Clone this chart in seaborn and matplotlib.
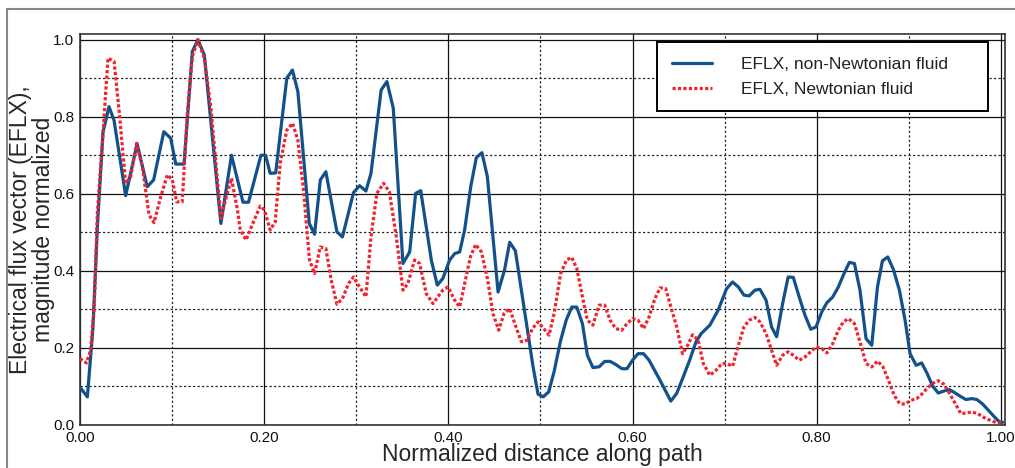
import numpy as np
import pandas as pd
import matplotlib
matplotlib.use("Agg")
import matplotlib.pyplot as plt
import seaborn as sns
from matplotlib.ticker import MultipleLocator, FormatStrFormatter
from matplotlib.patches import Rectangle

# ---------------- data ----------------
nonnewt_x = [0.000, 0.008, 0.014, 0.019, 0.025, 0.0315, 0.037, 0.0496, 0.062, 0.073,
             0.080, 0.091, 0.0985, 0.104, 0.113, 0.122, 0.128, 0.135, 0.153, 0.1645,
             0.177, 0.183, 0.1965, 0.2015, 0.2065, 0.2125, 0.2246, 0.2307, 0.2366, 0.249,
             0.2547, 0.261, 0.267, 0.279, 0.285, 0.297, 0.3036, 0.3105, 0.316, 0.327,
             0.3333, 0.3402, 0.3507, 0.358, 0.3645, 0.370, 0.3815, 0.388, 0.394, 0.4014,
             0.407, 0.4123, 0.4177, 0.4243, 0.4304, 0.4365, 0.4424, 0.454, 0.461, 0.4666,
             0.4728, 0.492, 0.4974, 0.503, 0.509, 0.5148, 0.522, 0.528, 0.534, 0.5395,
             0.5456, 0.551, 0.557, 0.5637, 0.5698, 0.5757, 0.5818, 0.5884, 0.594, 0.600,
             0.606, 0.612, 0.618, 0.629, 0.6416, 0.648, 0.6543, 0.662, 0.669, 0.6745,
             0.684, 0.693, 0.7022, 0.7087, 0.715, 0.721, 0.7267, 0.733, 0.7384, 0.745,
             0.751, 0.7565, 0.763, 0.769, 0.7746, 0.781, 0.7873, 0.7935, 0.7993, 0.8055,
             0.811, 0.8174, 0.8235, 0.8297, 0.8355, 0.841, 0.847, 0.8536, 0.8598, 0.866,
             0.8714, 0.8772, 0.8833, 0.8898, 0.896, 0.9014, 0.908, 0.914, 0.920, 0.926,
             0.932, 0.938, 0.944, 0.9505, 0.956, 0.962, 0.9685, 0.974, 0.9804, 0.9865,
             0.993, 0.9985, 1.002]
nonnewt_y = [0.098, 0.073, 0.25, 0.52, 0.76, 0.826, 0.79, 0.595, 0.73, 0.618,
             0.636, 0.761, 0.744, 0.677, 0.677, 0.969, 1.0, 0.96, 0.523, 0.70,
             0.578, 0.578, 0.70, 0.70, 0.653, 0.654, 0.90, 0.921, 0.865, 0.523,
             0.495, 0.636, 0.657, 0.501, 0.488, 0.603, 0.621, 0.607, 0.653, 0.869,
             0.891, 0.822, 0.419, 0.449, 0.601, 0.608, 0.428, 0.363, 0.380, 0.428,
             0.445, 0.449, 0.506, 0.618, 0.694, 0.7065, 0.644, 0.345, 0.402, 0.474,
             0.452, 0.151, 0.080, 0.073, 0.086, 0.138, 0.22, 0.272, 0.306, 0.306,
             0.263, 0.181, 0.149, 0.151, 0.165, 0.165, 0.157, 0.146, 0.146, 0.168,
             0.185, 0.185, 0.168, 0.12, 0.062, 0.082, 0.120, 0.168, 0.216, 0.237,
             0.259, 0.298, 0.354, 0.371, 0.358, 0.337, 0.335, 0.350, 0.352, 0.324,
             0.2545, 0.229, 0.315, 0.384, 0.383, 0.332, 0.285, 0.2485, 0.2545, 0.2935,
             0.317, 0.332, 0.358, 0.393, 0.422, 0.419, 0.350, 0.224, 0.207, 0.358,
             0.426, 0.436, 0.4036, 0.350, 0.272, 0.185, 0.155, 0.161, 0.1335, 0.1005,
             0.083, 0.088, 0.092, 0.083, 0.0745, 0.066, 0.0685, 0.066, 0.054, 0.038,
             0.021, 0.008, 0.007]

newt_x = [0.000, 0.007, 0.0115, 0.0155, 0.0188, 0.024, 0.0304, 0.037, 0.0424, 0.0496,
          0.055, 0.0615, 0.0677, 0.075, 0.0804, 0.0876, 0.0949, 0.1003, 0.105, 0.111,
          0.1166, 0.122, 0.128, 0.135, 0.142, 0.153, 0.158, 0.1645, 0.171, 0.174,
          0.1804, 0.1876, 0.1957, 0.2003, 0.2065, 0.212, 0.2174, 0.2246, 0.2308, 0.2365,
          0.2427, 0.2492, 0.2547, 0.2609, 0.267, 0.2728, 0.279, 0.285, 0.2916, 0.297,
          0.3036, 0.3105, 0.316, 0.3224, 0.3297, 0.336, 0.3435, 0.3507, 0.356, 0.3634,
          0.3688, 0.376, 0.3833, 0.3887, 0.394, 0.3996, 0.4068, 0.4123, 0.4177, 0.4239,
          0.4297, 0.4359, 0.4424, 0.4485, 0.4547, 0.4605, 0.4666, 0.4728, 0.4793, 0.4855,
          0.4913, 0.4974, 0.5036, 0.5094, 0.5148, 0.522, 0.5283, 0.534, 0.5395, 0.5456,
          0.551, 0.557, 0.5637, 0.5698, 0.5757, 0.5818, 0.5884, 0.594, 0.600, 0.606,
          0.612, 0.618, 0.6243, 0.630, 0.636, 0.6424, 0.648, 0.6543, 0.6597, 0.6652,
          0.6713, 0.6768, 0.684, 0.6907, 0.697, 0.7022, 0.7087, 0.715, 0.721, 0.7267,
          0.733, 0.7384, 0.745, 0.751, 0.7565, 0.763, 0.769, 0.7746, 0.781, 0.7873,
          0.7935, 0.7993, 0.8055, 0.811, 0.8174, 0.8235, 0.829, 0.8345, 0.841, 0.847,
          0.8536, 0.8598, 0.866, 0.872, 0.878, 0.8842, 0.890, 0.896, 0.9022, 0.9087,
          0.914, 0.9196, 0.926, 0.932, 0.938, 0.944, 0.9505, 0.9565, 0.962, 0.9685,
          0.975, 0.9804, 0.9865, 0.993, 1.002]
newt_y = [0.1725, 0.161, 0.194, 0.306, 0.549, 0.722, 0.952, 0.943, 0.817, 0.627,
          0.644, 0.731, 0.670, 0.545, 0.525, 0.592, 0.649, 0.636, 0.579, 0.579,
          0.809, 0.956, 0.999, 0.952, 0.826, 0.536, 0.584, 0.64, 0.558, 0.506,
          0.48, 0.523, 0.568, 0.558, 0.506, 0.527, 0.679, 0.765, 0.783, 0.74,
          0.61, 0.428, 0.393, 0.462, 0.458, 0.376, 0.3135, 0.328, 0.367, 0.384,
          0.358, 0.3325, 0.488, 0.601, 0.627, 0.605, 0.488, 0.35, 0.367, 0.428,
          0.419, 0.341, 0.315, 0.3325, 0.35, 0.358, 0.324, 0.3065, 0.367, 0.436,
          0.4685, 0.449, 0.380, 0.289, 0.246, 0.289, 0.302, 0.259, 0.216, 0.22,
          0.250, 0.2675, 0.250, 0.233, 0.289, 0.393, 0.428, 0.435, 0.406, 0.3325,
          0.272, 0.259, 0.311, 0.311, 0.272, 0.25, 0.246, 0.263, 0.276, 0.272,
          0.25, 0.2805, 0.328, 0.356, 0.354, 0.300, 0.2545, 0.185, 0.206, 0.234,
          0.22, 0.16, 0.129, 0.142, 0.1595, 0.1595, 0.1525, 0.207, 0.2545, 0.272,
          0.279, 0.2675, 0.2374, 0.194, 0.155, 0.181, 0.19, 0.181, 0.168, 0.1766,
          0.19, 0.2026, 0.1984, 0.187, 0.211, 0.246, 0.2675, 0.276, 0.263, 0.2156,
          0.1595, 0.1506, 0.166, 0.1506, 0.116, 0.077, 0.0556, 0.054, 0.064, 0.0686,
          0.0797, 0.0945, 0.108, 0.115, 0.106, 0.083, 0.0556, 0.0296, 0.031, 0.0338,
          0.0296, 0.0208, 0.014, 0.008, 0.004]

label_nonnewt = "EFLX, non-Newtonian fluid"
label_newt = "EFLX, Newtonian fluid"
x_ticks = [0.0, 0.2, 0.4, 0.6, 0.8, 1.0]
y_ticks = [0.0, 0.2, 0.4, 0.6, 0.8, 1.0]

# ---------------- styling ----------------
sns.set_style("white")
plt.rcParams['font.family'] = ['Liberation Sans', 'DejaVu Sans']
plt.rcParams['text.color'] = '#111111'

W, H = 1015, 468
fig = plt.figure(figsize=(W / 100, H / 100), dpi=100)
ax = fig.add_axes([80 / W, 1 - 425 / H, 925 / W, 391 / H])

blue = "#12518a"
red = "#f0232e"

df_a = pd.DataFrame({"x": nonnewt_x, "y": nonnewt_y})
df_b = pd.DataFrame({"x": newt_x, "y": newt_y})

sns.lineplot(data=df_a, x="x", y="y", ax=ax, color=blue, lw=2.3,
             label=label_nonnewt, sort=False, estimator=None, zorder=3)
sns.lineplot(data=df_b, x="x", y="y", ax=ax, color=red, lw=2.3,
             linestyle=(0, (1.0, 0.7)), label=label_newt, sort=False,
             estimator=None, zorder=4)

ax.set_xlim(0, 1.0045)
ax.set_ylim(0, 1.0145)
ax.set_xticks(x_ticks)
ax.set_yticks(y_ticks)
ax.xaxis.set_minor_locator(MultipleLocator(0.1))
ax.yaxis.set_minor_locator(MultipleLocator(0.1))
ax.xaxis.set_major_formatter(FormatStrFormatter('%.2f'))
ax.yaxis.set_major_formatter(FormatStrFormatter('%.1f'))
ax.set_axisbelow(True)
ax.grid(which='major', color='#111111', lw=0.9, ls='-')
ax.grid(which='minor', color='#222222', lw=0.9, ls=(0, (1.8, 1.8)))
ax.tick_params(which='both', length=0, labelsize=11, pad=4, colors='#111111')

for s in ax.spines.values():
    s.set_visible(True)
    s.set_color('#333333')
    s.set_linewidth(1.2)

ax.set_xlabel("Normalized distance along path", fontsize=16.5, labelpad=-1)
ax.set_ylabel("Electrical flux vector (EFLX),\nmagnitude normalized",
              fontsize=16.5, labelpad=-1.5, linespacing=1.0)

leg = ax.legend(loc='upper right', bbox_to_anchor=(0.6238, 0.80, 0.3578, 0.1795),
                mode='expand', fancybox=False, edgecolor='black', framealpha=1,
                fontsize=12.5, handlelength=2.3, handletextpad=1.7, borderpad=0.85,
                labelspacing=0.55, borderaxespad=0)
leg.get_frame().set_linewidth(1.4)
for t in leg.get_texts():
    t.set_color('#222222')

# outer figure frame
fig.patches.append(Rectangle((7 / W, -0.1), 1.2, (1 - 9 / H) + 0.1,
                             transform=fig.transFigure, fill=False,
                             edgecolor='#888888', lw=1.5))

fig.savefig("out.png", dpi=100)
